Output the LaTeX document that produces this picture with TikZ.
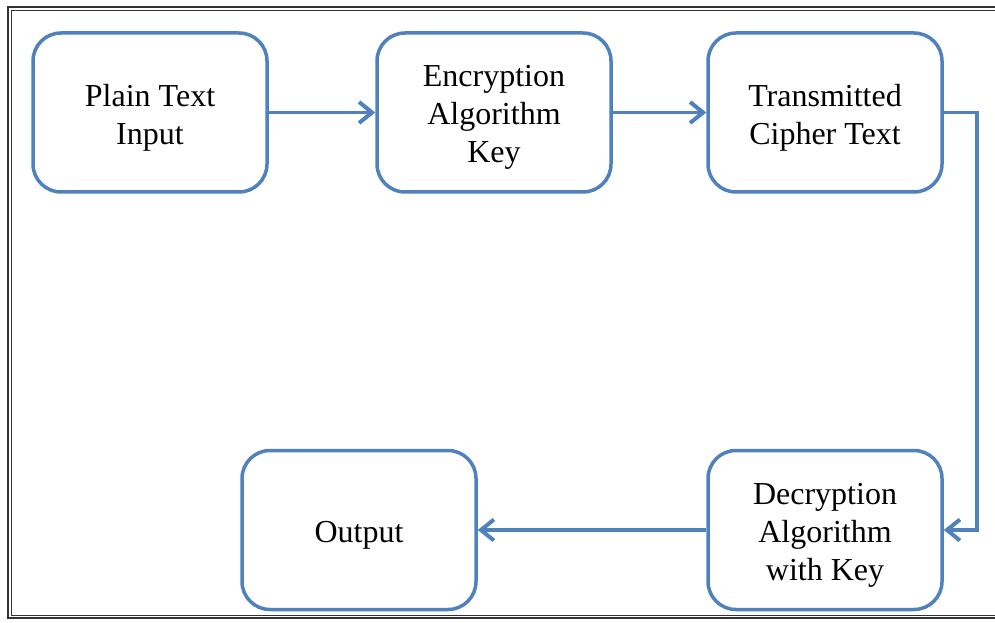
\documentclass[tikz,border=0pt]{standalone}
\usepackage{fontspec}
\setmainfont{Liberation Serif}
\usetikzlibrary{arrows.meta}
\definecolor{boxblue}{HTML}{4F81BD}
\begin{document}
\begin{tikzpicture}[x=1pt,y=1pt,
  block/.style={draw=boxblue,line width=3.5pt,rounded corners=28pt,minimum width=234pt,minimum height=159pt,inner sep=0pt},
  txt/.style={align=center,font=\fontsize{32}{38}\selectfont,inner sep=0pt,yshift=-5pt},
  conn/.style={draw=boxblue,line width=3.5pt,-{Straight Barb[length=13pt,width=21pt,line width=4pt]}},
  frame/.style={draw=black!80,line width=1.2pt}]
\useasboundingbox (0,0) rectangle (995,622);
% frame
\draw[frame] (1000,615) -- (8,615) -- (8,4) -- (1000,4);
\draw[frame,line width=0.8pt] (1000,612) -- (11,612) -- (11,7) -- (1000,7);
% boxes
\node[block] (plain) at (150,509.5) {};
\node[block] (enc) at (494,509.5) {};
\node[block] (trans) at (825,509.5) {};
\node[block] (out) at (359,92) {};
\node[block] (dec) at (825,92) {};
% texts
\node[txt] (plaint) at (plain) {Plain Text\\Input};
\node[txt] (enct) at (enc) {Encryption\\Algorithm\\Key};
\node[txt] (transt) at (trans) {Transmitted\\Cipher Text};
\node[txt] (outt) at (out) {Output};
\node[txt] (dect) at (dec) {Decryption\\Algorithm\\with Key};
\coordinate (c1) at (977,509.5);
\coordinate (c2) at (977,92);
% connectors
\draw[conn] (plain) -- (enc);
\draw[conn] (enc) -- (trans);
\draw[conn] (trans.east) -- (c1) -- (c2) -- (dec.east);
\draw[conn] (dec) -- (out);
\end{tikzpicture}
\end{document}
